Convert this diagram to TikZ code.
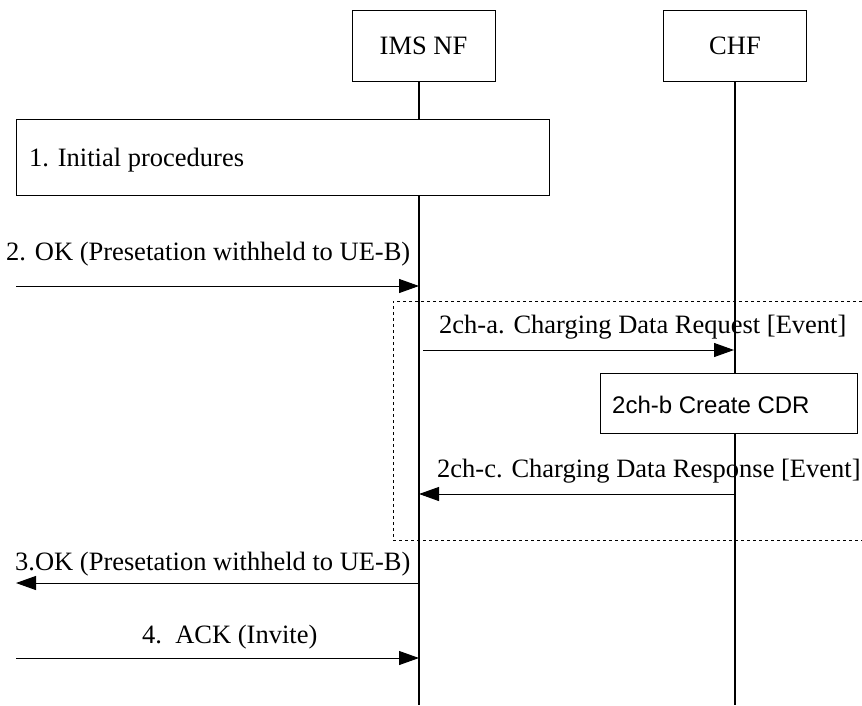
\documentclass[tikz,border=0pt]{standalone}
\usepackage{fontspec}
\setmainfont{Liberation Serif}
\newfontfamily\boxsans{Liberation Sans}
\usetikzlibrary{arrows.meta}
\begin{document}
\begin{tikzpicture}[x=1pt,y=-1pt,
  every node/.style={font=\fontsize{26.5}{30}\selectfont, inner sep=0pt},
  entity/.style={draw, line width=1pt, minimum width=143pt, minimum height=71pt},
  procbox/.style={draw, line width=1pt},
  lifeline/.style={line width=1.8pt},
  msg/.style={line width=1pt, -{Triangle[length=20pt,width=14pt]}},
  lbl/.style={anchor=base west}]
\useasboundingbox (0,0) rectangle (862,705);
% entities
\node[entity] (ims) at (423.5,45.5) {IMS NF};
\node[entity] (chf) at (735,45.5) {CHF};
\coordinate (imsend) at (419,705);
\coordinate (chfend) at (735,705);
\draw[lifeline] (ims.south -| imsend) -- (imsend);
\draw[lifeline] (chf.south -| chfend) -- (chfend);
% step 1
\node[procbox, fill=white, minimum width=533pt, minimum height=76pt] (p1) at (282.5,157) {};
\node[lbl] (t1) at (29,166) {1. Initial procedures};
% step 2
\coordinate (a2l) at (16,286);
\coordinate (a2r) at (419,286);
\draw[msg] (a2l) -- (a2r);
\node[lbl] (t2) at (6,260) {2. OK (Presetation withheld to UE-B)};
% dashed group
\draw[dashed, line width=0.8pt] (862,301) -- (393,301) -- (393,540) -- (862,540);
% 2ch-a
\coordinate (ca1) at (423,350);
\coordinate (ca2) at (734,350);
\draw[msg] (ca1) -- (ca2);
\node[lbl] (tca) at (439,333) {2ch-a. Charging Data Request [Event]};
% 2ch-b
\node[procbox, fill=white, minimum width=257pt, minimum height=60pt] (pb) at (728.5,403) {};
\node[lbl, font={\boxsans\fontsize{24}{30}\selectfont}] (tcb) at (612,413) {2ch-b Create CDR};
% 2ch-c
\coordinate (cc1) at (734,494);
\coordinate (cc2) at (419,494);
\draw[msg] (cc1) -- (cc2);
\node[lbl] (tcc) at (437,477) {2ch-c. Charging Data Response [Event]};
% step 3
\coordinate (a3r) at (419,583);
\coordinate (a3l) at (16,583);
\draw[msg] (a3r) -- (a3l);
\node[lbl] (t3) at (15,570) {3.OK (Presetation withheld to UE-B)};
% step 4
\coordinate (a4l) at (16,658);
\coordinate (a4r) at (419,658);
\draw[msg] (a4l) -- (a4r);
\node[lbl] (t4) at (142,643) {4.\ \ ACK (Invite)};
\end{tikzpicture}
\end{document}
